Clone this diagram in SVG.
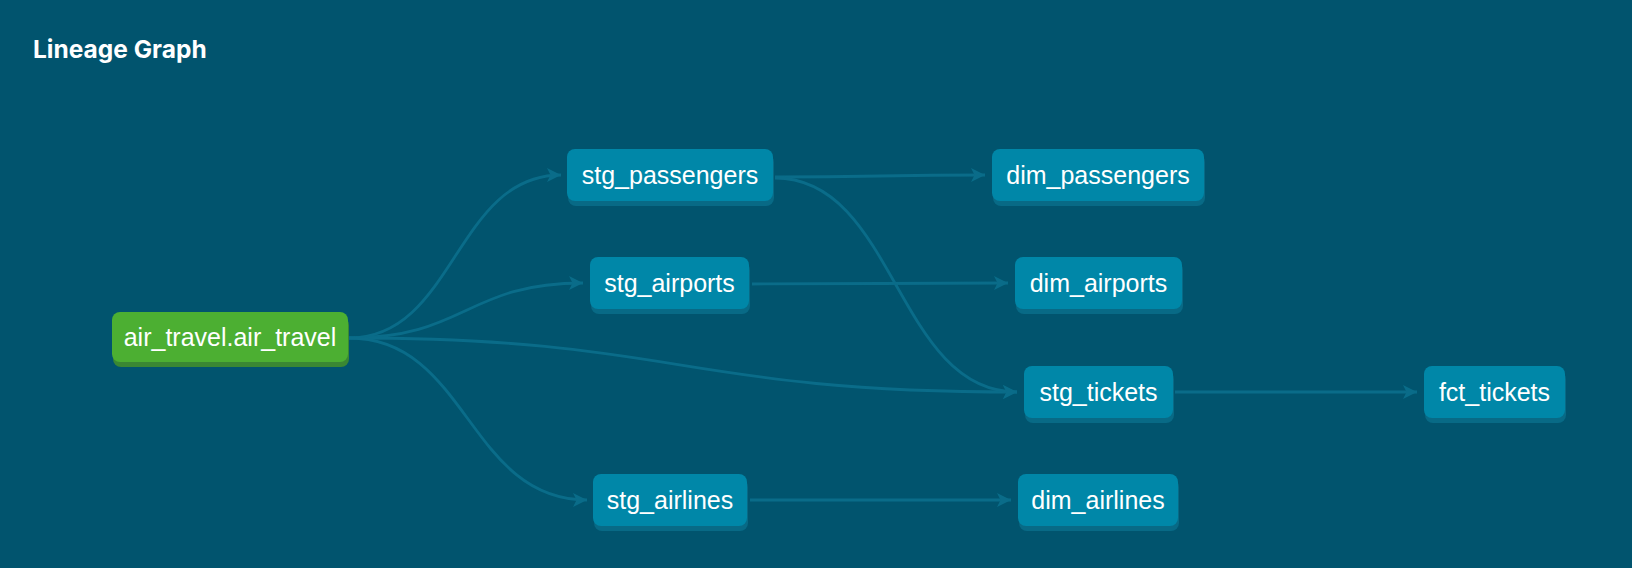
<svg xmlns="http://www.w3.org/2000/svg" width="1632" height="568" viewBox="0 0 1632 568">
<defs>
<style>
.bg{fill:#01546e}
.title{font-family:Inter,"Liberation Sans",sans-serif;font-weight:700;font-size:24.5px;fill:#ffffff}
.n rect.m{fill:#0087a8}
.n rect.s{fill:#086a86}
.g rect.m{fill:#4caf32}
.g rect.s{fill:#3a8733}
.lbl{font-family:"Liberation Sans",Arial,sans-serif;font-size:25px;fill:#ffffff;text-anchor:middle}
.e{fill:none;stroke:#0a6c89;stroke-width:2.8}
</style>
<marker id="arr" markerWidth="14" markerHeight="14" viewBox="0 0 14 14" refX="14" refY="7" orient="auto" markerUnits="userSpaceOnUse">
<path d="M0,0 L14,7 L0,14 L3.5,7 Z" fill="#0a6c89"/>
</marker>
</defs>
<rect class="bg" x="0" y="0" width="1632" height="568"/>
<text class="title" x="33" y="58">Lineage Graph</text>
<g id="connectors">
<path class="e" marker-end="url(#arr)" d="M349,338 C455,338 455,175 561,175"/>
<path class="e" marker-end="url(#arr)" d="M349,338 C466,338 466,283 583,283"/>
<path class="e" marker-end="url(#arr)" d="M349,338 C680,338 680,392 1017,392"/>
<path class="e" marker-end="url(#arr)" d="M349,338 C468,338 468,500 587,500"/>
<path class="e" marker-end="url(#arr)" d="M775,177 C880,177 880,175 985,175"/>
<path class="e" marker-end="url(#arr)" d="M775,178 C896,178 896,392 1017,392"/>
<path class="e" marker-end="url(#arr)" d="M752,284 C880,284 880,283 1008,283"/>
<path class="e" marker-end="url(#arr)" d="M1175,392 C1296,392 1296,392 1417,392"/>
<path class="e" marker-end="url(#arr)" d="M750,500 C880,500 880,500 1011,500"/>
</g>
<g id="air_travel" class="g">
<rect class="s" x="113" y="317" width="236" height="50" rx="8"/>
<rect class="m" x="112" y="312" width="236" height="50" rx="8"/>
<text class="lbl" x="230" y="346">air_travel.air_travel</text>
</g>
<g id="stg_passengers" class="n">
<rect class="s" x="568" y="154" width="206" height="52" rx="8"/>
<rect class="m" x="567" y="149" width="206" height="52" rx="8"/>
<text class="lbl" x="670" y="183.5">stg_passengers</text>
</g>
<g id="stg_airports" class="n">
<rect class="s" x="591" y="262" width="159" height="52" rx="8"/>
<rect class="m" x="590" y="257" width="159" height="52" rx="8"/>
<text class="lbl" x="669.5" y="291.5">stg_airports</text>
</g>
<g id="stg_airlines" class="n">
<rect class="s" x="594" y="479" width="154" height="52" rx="8"/>
<rect class="m" x="593" y="474" width="154" height="52" rx="8"/>
<text class="lbl" x="670" y="508.5">stg_airlines</text>
</g>
<g id="dim_passengers" class="n">
<rect class="s" x="993" y="154" width="212" height="52" rx="8"/>
<rect class="m" x="992" y="149" width="212" height="52" rx="8"/>
<text class="lbl" x="1098" y="183.5">dim_passengers</text>
</g>
<g id="dim_airports" class="n">
<rect class="s" x="1016" y="262" width="167" height="52" rx="8"/>
<rect class="m" x="1015" y="257" width="167" height="52" rx="8"/>
<text class="lbl" x="1098.5" y="291.5">dim_airports</text>
</g>
<g id="stg_tickets" class="n">
<rect class="s" x="1025" y="371" width="149" height="52" rx="8"/>
<rect class="m" x="1024" y="366" width="149" height="52" rx="8"/>
<text class="lbl" x="1098.5" y="400.5">stg_tickets</text>
</g>
<g id="fct_tickets" class="n">
<rect class="s" x="1425" y="371" width="141" height="52" rx="8"/>
<rect class="m" x="1424" y="366" width="141" height="52" rx="8"/>
<text class="lbl" x="1494.5" y="400.5">fct_tickets</text>
</g>
<g id="dim_airlines" class="n">
<rect class="s" x="1019" y="479" width="160" height="52" rx="8"/>
<rect class="m" x="1018" y="474" width="160" height="52" rx="8"/>
<text class="lbl" x="1098" y="508.5">dim_airlines</text>
</g>
</svg>
